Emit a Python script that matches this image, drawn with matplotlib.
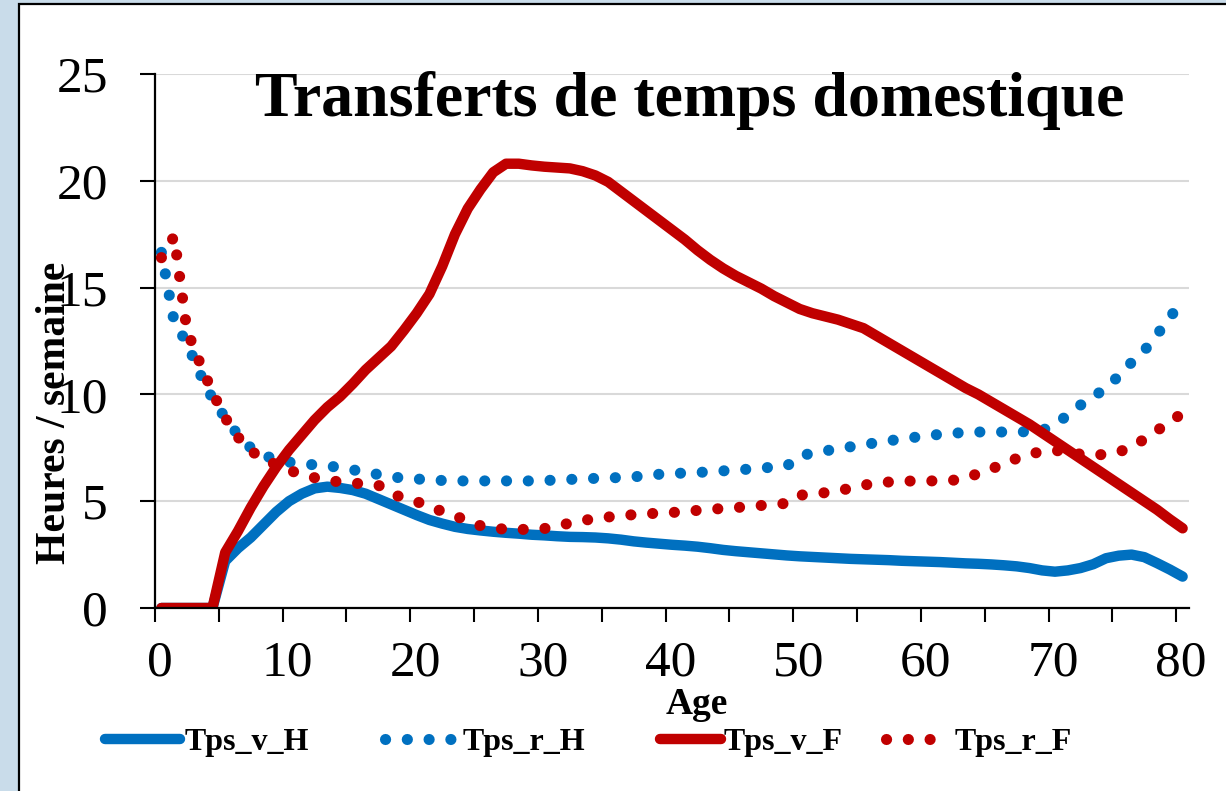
import numpy as np
import matplotlib
matplotlib.use("Agg")
import matplotlib.pyplot as plt
from matplotlib.patches import Rectangle
from matplotlib.transforms import ScaledTranslation

plt.rcParams['font.family'] = ['Liberation Serif', 'DejaVu Serif']

# ages (mid-year) and hours per week
ages = np.arange(0, 81) + 0.5

tps_v_h = [0, 0, 0, 0, 0, 2.2, 2.8, 3.3, 3.9, 4.5,
           5.0, 5.35, 5.6, 5.68, 5.62, 5.52, 5.35, 5.1, 4.85, 4.6,
           4.35, 4.12, 3.95, 3.8, 3.7, 3.63, 3.57, 3.52, 3.48, 3.43,
           3.4, 3.36, 3.33, 3.32, 3.3, 3.26, 3.2, 3.12, 3.06, 3.01,
           2.96, 2.92, 2.87, 2.8, 2.72, 2.66, 2.61, 2.56, 2.51, 2.46,
           2.42, 2.39, 2.36, 2.33, 2.3, 2.28, 2.26, 2.24, 2.21, 2.19,
           2.17, 2.15, 2.12, 2.09, 2.07, 2.04, 2.0, 1.95, 1.87, 1.76,
           1.7, 1.76, 1.87, 2.05, 2.33, 2.45, 2.5, 2.38, 2.1, 1.8,
           1.47]

tps_r_h = [16.65, 13.4, 12.4, 11.0, 9.8, 8.9, 8.1, 7.5, 7.15, 6.95,
           6.83, 6.76, 6.7, 6.66, 6.57, 6.47, 6.35, 6.25, 6.14, 6.08,
           6.04, 6.0, 5.97, 5.95, 5.95, 5.95, 5.95, 5.95, 5.95, 5.95,
           5.96, 6.0, 6.02, 6.04, 6.07, 6.09, 6.11, 6.14, 6.2, 6.26,
           6.29, 6.32, 6.35, 6.37, 6.42, 6.46, 6.5, 6.55, 6.6, 6.65,
           7.12, 7.25, 7.35, 7.47, 7.55, 7.64, 7.74, 7.83, 7.91, 7.99,
           8.07, 8.13, 8.18, 8.22, 8.24, 8.24, 8.24, 8.24, 8.26, 8.3,
           8.65, 9.0, 9.5, 9.85, 10.35, 10.85, 11.5, 12.05, 12.8, 13.6,
           14.4]

tps_v_f = [0, 0, 0, 0, 0, 2.6, 3.6, 4.7, 5.7, 6.6,
           7.4, 8.1, 8.8, 9.4, 9.9, 10.5, 11.15, 11.7, 12.25, 13.0,
           13.8, 14.7, 16.0, 17.5, 18.7, 19.6, 20.4, 20.8, 20.8, 20.72,
           20.66, 20.62, 20.58, 20.45, 20.25, 19.95, 19.5, 19.05, 18.6, 18.15,
           17.7, 17.25, 16.75, 16.3, 15.9, 15.55, 15.25, 14.95, 14.6, 14.3,
           14.0, 13.8, 13.65, 13.5, 13.3, 13.1, 12.75, 12.4, 12.05, 11.7,
           11.35, 11.0, 10.65, 10.3, 10.0, 9.65, 9.3, 8.95, 8.6, 8.2,
           7.8, 7.4, 7.0, 6.6, 6.2, 5.8, 5.4, 5.0, 4.6, 4.15,
           3.73]

tps_r_f = [16.4, 17.4, 13.0, 11.5, 10.1, 8.9, 8.0, 7.35, 7.0, 6.7,
           6.45, 6.25, 6.1, 5.98, 5.9, 5.85, 5.8, 5.75, 5.35, 5.15,
           4.98, 4.75, 4.52, 4.3, 4.1, 3.85, 3.75, 3.68, 3.68, 3.68,
           3.72, 3.85, 3.97, 4.1, 4.18, 4.26, 4.32, 4.37, 4.41, 4.44,
           4.47, 4.52, 4.57, 4.62, 4.66, 4.7, 4.75, 4.8, 4.85, 4.9,
           5.28, 5.33, 5.4, 5.5, 5.6, 5.75, 5.85, 5.9, 5.93, 5.95,
           5.95, 5.95, 5.98, 6.08, 6.3, 6.5, 6.77, 7.0, 7.2, 7.33,
           7.38, 7.3, 7.2, 7.15, 7.2, 7.3, 7.55, 7.9, 8.3, 8.75,
           9.1]

blue = '#0070C0'
red = '#C00000'

fig = plt.figure(figsize=(12.26, 7.91), dpi=100)
fig.patch.set_facecolor('#c9dcea')
fig.patches.append(Rectangle((19 / 1226, -0.1), 1.1, 1.1 - 4 / 791, transform=fig.transFigure,
                             facecolor='white', edgecolor='black', linewidth=1.6, zorder=-5))

ax = fig.add_axes([155 / 1226, 1 - 608 / 791, (1189 - 155) / 1226, (608 - 74) / 791])
ax.set_facecolor('none')
ax.set_zorder(2)

dots = (0, (0.01, 1.95))
l1, = ax.plot(ages, tps_v_h, color=blue, lw=7.5, solid_capstyle='round', solid_joinstyle='round')
l2, = ax.plot(ages, tps_r_h, color=blue, lw=8, linestyle=dots, dash_capstyle='round')
l3, = ax.plot(ages, tps_v_f, color=red, lw=7.5, solid_capstyle='round', solid_joinstyle='round')
l4, = ax.plot(ages, tps_r_f, color=red, lw=8, linestyle=dots, dash_capstyle='round')

ax.set_xlim(0, 81)
ax.set_ylim(0, 25)
ax.set_xticks(np.arange(0, 81, 5))
ax.set_xticklabels([str(v) if v % 10 == 0 else '' for v in range(0, 81, 5)])
ax.set_yticks(np.arange(0, 26, 5))
ax.tick_params(axis='both', labelsize=37, direction='out', width=1.5, colors='black')
ax.tick_params(axis='x', length=10, pad=13)
ax.tick_params(axis='y', length=11, pad=23)
ax.grid(axis='y', color='#d9d9d9', lw=1.5)
ax.set_axisbelow(True)
for s in ['top', 'right']:
    ax.spines[s].set_visible(False)
for s in ['left', 'bottom']:
    ax.spines[s].set_linewidth(1.6)
shift = ScaledTranslation(5 / 100, 0, fig.dpi_scale_trans)
for lab in ax.get_xticklabels():
    lab.set_transform(lab.get_transform() + shift)

fig.text(690 / 1226, 1 - 100 / 791, 'Transferts de temps domestique', ha='center', va='center',
         fontsize=46, fontweight='bold', zorder=5)
fig.text(55 / 1226, 1 - 413 / 791, 'Heures / semaine', rotation=90, ha='center', va='center',
         fontsize=30, fontweight='bold', zorder=5)
fig.text(697 / 1226, 1 - 704 / 791, 'Age', ha='center', va='center', fontsize=27, fontweight='bold')

# legend entries placed one by one, as in the source layout
handles = [l1, l2, l3, l4]
labels = ['Tps_v_H', 'Tps_r_H', 'Tps_v_F', 'Tps_r_F']
left_px = [105, 385, 660, 886]
hlen = [2.35, 2.35, 1.9, 1.55]
tpad = [0.15, 0.08, 0.08, 0.6]
for h, lab, x0, hl, tp in zip(handles, labels, left_px, hlen, tpad):
    leg = fig.legend([h], [lab], loc='center left', bbox_to_anchor=(x0 / 1226, 1 - 742 / 791),
                     frameon=False, prop={'weight': 'bold', 'size': 23}, handlelength=hl,
                     handletextpad=tp, borderpad=0, borderaxespad=0)

fig.savefig('out.png', dpi=100, facecolor=fig.get_facecolor())
